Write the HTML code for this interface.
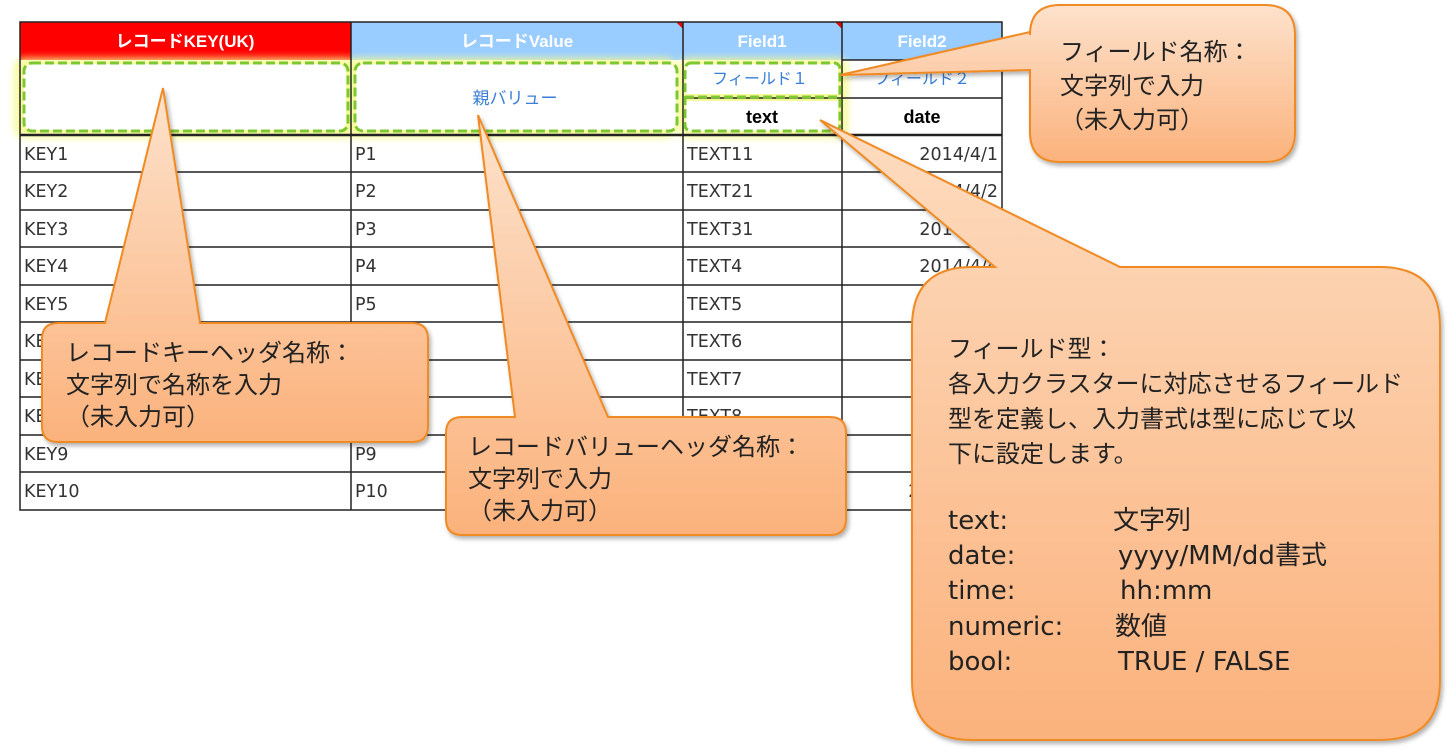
<!DOCTYPE html>
<html><head><meta charset="utf-8"><style>
body{margin:0;background:#fff;width:1448px;height:748px;overflow:hidden}
svg text{font-family:"DejaVu Sans","Noto Sans CJK JP",sans-serif}
</style></head><body>
<svg width="1448" height="748" viewBox="0 0 1448 748" xmlns="http://www.w3.org/2000/svg">
<defs>
<linearGradient id="g" x1="0" y1="0" x2="0" y2="1"><stop offset="0" stop-color="#fde2cc"/><stop offset="1" stop-color="#fbb27c"/></linearGradient>
<linearGradient id="gb" x1="0" y1="0" x2="0" y2="1"><stop offset="0" stop-color="#fddcc0"/><stop offset="1" stop-color="#fbb27c"/></linearGradient>
<filter id="glow" x="-10%" y="-20%" width="120%" height="140%"><feGaussianBlur stdDeviation="4"/></filter>
<filter id="sh" x="-5%" y="-5%" width="115%" height="115%"><feDropShadow dx="2" dy="3" stdDeviation="2" flood-color="#000" flood-opacity="0.3"/></filter>
</defs>
<rect x="20" y="22" width="331" height="38" fill="#ff0000"/>
<rect x="351" y="22" width="651" height="38" fill="#99ccff"/>
<g font-size="17" font-weight="bold" text-anchor="middle" fill="#fff">
<text x="185" y="47" style="font-family:'Liberation Sans','Noto Sans CJK JP',sans-serif">レコードKEY(UK)</text>
<text x="517" y="47" style="font-family:'Liberation Sans','Noto Sans CJK JP',sans-serif">レコードValue</text>
<text x="762" y="47" style="font-family:'Liberation Sans',sans-serif">Field1</text>
<text x="922" y="47" style="font-family:'Liberation Sans',sans-serif">Field2</text>
</g>
<polygon points="676,22 683,22 683,29" fill="#e00"/><polygon points="835,22 842,22 842,29" fill="#e00"/>
<g filter="url(#glow)" fill="#f6fb90" opacity="0.9">
<rect x="14" y="58" width="342" height="80" rx="10"/><rect x="346" y="58" width="330" height="80" rx="10"/><rect x="678" y="58" width="170" height="80" rx="10"/>
</g>
<rect x="24" y="64" width="322" height="66" rx="8" fill="#fff"/><rect x="356" y="64" width="320" height="66" rx="8" fill="#fff"/>
<rect x="686" y="64" width="152" height="30" fill="#fff"/><rect x="686" y="101" width="152" height="30" fill="#fff"/>
<text x="515" y="104" font-size="17" fill="#3a7fd5" text-anchor="middle">親バリュー</text>
<text x="760" y="84" font-size="16" fill="#3a7fd5" text-anchor="middle">フィールド１</text>
<text x="922" y="84" font-size="16" fill="#3a7fd5" text-anchor="middle">フィールド２</text>
<g font-size="18" font-weight="bold" text-anchor="middle" fill="#000"><text x="762" y="123" style="font-family:'Liberation Sans',sans-serif">text</text><text x="922" y="123" style="font-family:'Liberation Sans',sans-serif">date</text></g>
<g stroke="#222" stroke-width="1.5" fill="none">
<rect x="20" y="22" width="982" height="488"/>
<line x1="351" y1="22" x2="351" y2="510"/><line x1="683" y1="22" x2="683" y2="510"/><line x1="842" y1="22" x2="842" y2="510"/>
<line x1="842" y1="60" x2="1002" y2="60"/><line x1="683" y1="98" x2="1002" y2="98"/>
<line x1="20" y1="135" x2="1002" y2="135" stroke-width="2.5"/>
<line x1="20" y1="172" x2="1002" y2="172"/><line x1="20" y1="210" x2="1002" y2="210"/><line x1="20" y1="247" x2="1002" y2="247"/><line x1="20" y1="285" x2="1002" y2="285"/><line x1="20" y1="322" x2="1002" y2="322"/><line x1="20" y1="360" x2="1002" y2="360"/><line x1="20" y1="397" x2="1002" y2="397"/><line x1="20" y1="435" x2="1002" y2="435"/><line x1="20" y1="472" x2="1002" y2="472"/>
</g>
<g stroke="#7dc832" stroke-width="3" stroke-dasharray="9,4" fill="none">
<rect x="24" y="63" width="324" height="68" rx="8"/><rect x="355" y="63" width="322" height="68" rx="8"/><rect x="685" y="63" width="155" height="68" rx="6"/><line x1="685" y1="97" x2="840" y2="97"/>
</g>
<g font-size="17.5" fill="#333">
<text x="24" y="160">KEY1</text><text x="24" y="197">KEY2</text><text x="24" y="235">KEY3</text><text x="24" y="272">KEY4</text><text x="24" y="310">KEY5</text><text x="24" y="347">KEY6</text><text x="24" y="385">KEY7</text><text x="24" y="422">KEY8</text><text x="24" y="460">KEY9</text><text x="24" y="497">KEY10</text>
<text x="355" y="160">P1</text><text x="355" y="197">P2</text><text x="355" y="235">P3</text><text x="355" y="272">P4</text><text x="355" y="310">P5</text><text x="355" y="460">P9</text><text x="355" y="497">P10</text>
<text x="687" y="160">TEXT11</text><text x="687" y="197">TEXT21</text><text x="687" y="235">TEXT31</text><text x="687" y="272">TEXT4</text><text x="687" y="310">TEXT5</text><text x="687" y="347">TEXT6</text><text x="687" y="385">TEXT7</text><text x="687" y="422">TEXT8</text>
<g text-anchor="end"><text x="998" y="160">2014/4/1</text><text x="998" y="197">2014/4/2</text><text x="998" y="235">2014/4/3</text><text x="998" y="272">2014/4/4</text><text x="998" y="310">2014/4/5</text><text x="998" y="497">2014/4/10</text></g>
</g>
<g stroke="#f08a24" stroke-width="2" filter="url(#sh)">
<path d="M60,323 H105 L163,88 L200,323 H412 Q428,323 428,339 V426 Q428,442 412,442 H58 Q42,442 42,426 V339 Q42,323 58,323 Z" fill="url(#g)"/>
<path d="M462,417 H515 L478,115 L608,417 H830 Q846,417 846,433 V519 Q846,535 830,535 H462 Q446,535 446,519 V433 Q446,417 462,417 Z" fill="url(#g)"/>
<path d="M1060,5 H1265 Q1295,5 1295,35 V132 Q1295,162 1265,162 H1060 Q1030,162 1030,132 V70 L840,75 L1030,32 V35 Q1030,5 1060,5 Z" fill="url(#g)"/>
<path d="M995,267 L820,120 L1120,267 H1380 Q1440,267 1440,327 V680 Q1440,740 1380,740 H972 Q912,740 912,680 V327 Q912,267 972,267 Z" fill="url(#gb)"/>
</g>
<g font-size="24" fill="#222">
<text x="66" y="361">レコードキーヘッダ名称：</text><text x="66" y="393">文字列で名称を入力</text><text x="66" y="425">（未入力可）</text>
<text x="468" y="455">レコードバリューヘッダ名称：</text><text x="468" y="487">文字列で入力</text><text x="468" y="519">（未入力可）</text>
<text x="1060" y="60">フィールド名称：</text><text x="1060" y="94">文字列で入力</text><text x="1060" y="128">（未入力可）</text>
<text x="948" y="357">フィールド型：</text><text x="948" y="392">各入力クラスターに対応させるフィールド</text><text x="948" y="427">型を定義し、入力書式は型に応じて以</text><text x="948" y="462">下に設定します。</text>
</g>
<g font-size="26" fill="#222">
<text x="948" y="529">text:</text><text x="1113" y="529">文字列</text>
<text x="948" y="564">date:</text><text x="1118" y="564">yyyy/MM/dd書式</text>
<text x="948" y="599">time:</text><text x="1120" y="599">hh:mm</text>
<text x="948" y="635">numeric:</text><text x="1115" y="635">数値</text>
<text x="948" y="670">bool:</text><text x="1118" y="670">TRUE / FALSE</text>
</g>
</svg>
</body></html>
